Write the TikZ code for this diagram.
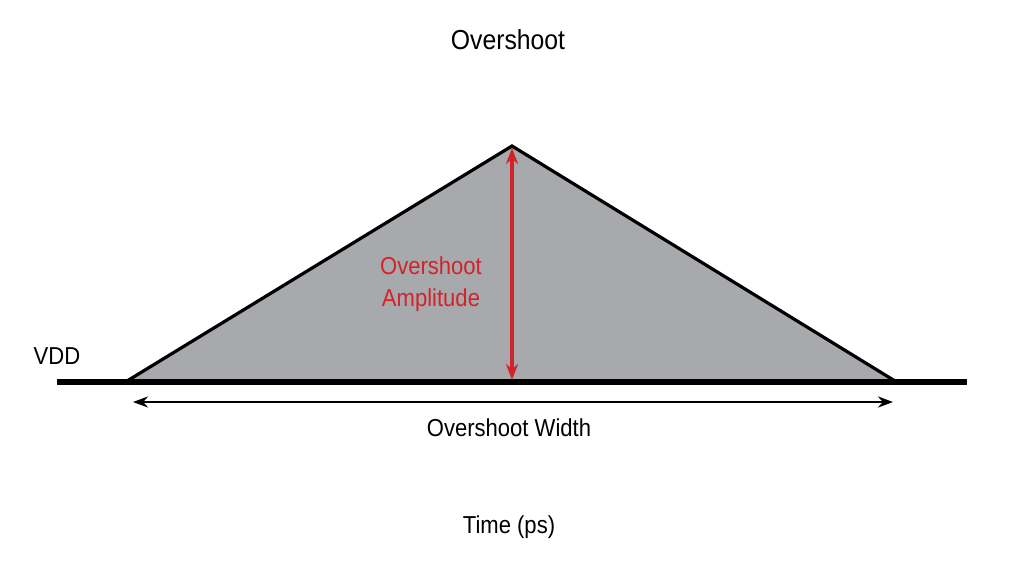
\documentclass[tikz,border=0pt]{standalone}
\usepackage{fontspec}
\setmainfont{Liberation Sans}[FakeStretch=0.9]
\usetikzlibrary{arrows.meta}
\definecolor{fillgray}{HTML}{A7A9AC}
\definecolor{ampred}{HTML}{D2232A}
\tikzset{
  lbl/.style={inner sep=0pt, font=\fontsize{24.5}{30}\selectfont},
  tribox/.style={draw=black, line width=3.2pt, fill=fillgray, line join=miter},
  baseln/.style={draw=black, line width=6pt},
  amp/.style={draw=ampred, line width=3.2pt, {Stealth[length=16pt,width=12pt]}-{Stealth[length=16pt,width=12pt]}},
  wid/.style={draw=black, line width=2.5pt, {Stealth[length=15pt,width=11pt]}-{Stealth[length=15pt,width=11pt]}}
}
\begin{document}
\begin{tikzpicture}[x=1pt,y=-1pt]
\useasboundingbox (0,0) rectangle (1024,573);
\coordinate (L) at (127,381);
\coordinate (A) at (512,146);
\coordinate (R) at (895,381);
\coordinate (B0) at (57,382);
\coordinate (B1) at (967,382);
\coordinate (AT) at (512,148);
\coordinate (AB) at (512,380);
\coordinate (WL) at (133,402);
\coordinate (WR) at (893,402);
\path[tribox] (L) -- (A) -- (R) -- cycle;
\draw[baseln] (B0) -- (B1);
\draw[amp] (AT) -- (AB);
\draw[wid] (WL) -- (WR);
\node[lbl, font=\fontsize{27.5}{32}\selectfont] (title) at (508,40) {Overshoot};
\node[lbl] (vdd) at (57,356) {VDD};
\node[lbl, text=ampred, align=center, font=\fontsize{24.5}{32}\selectfont] (ampl) at (431,284) {Overshoot\\Amplitude};
\node[lbl] (width) at (509,428) {Overshoot Width};
\node[lbl] (time) at (509,527) {Time (ps)};
\end{tikzpicture}
\end{document}
